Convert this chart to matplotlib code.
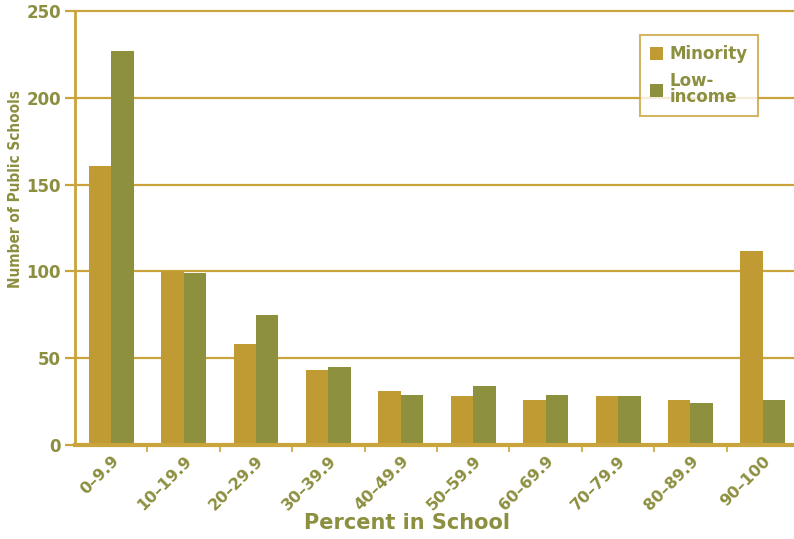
import numpy as np
import matplotlib.pyplot as plt
from matplotlib.patches import Patch

# school counts by percent band
categories = ['0–9.9', '10–19.9', '20–29.9', '30–39.9', '40–49.9',
              '50–59.9', '60–69.9', '70–79.9', '80–89.9', '90–100']
minority = [161, 100, 58, 43, 31, 28, 26, 28, 26, 112]
low_income = [227, 99, 75, 45, 29, 34, 29, 28, 24, 26]

gold = '#C09A33'
olive = '#8D913D'
line_col = '#C9A43C'
text_col = '#8C8F3F'

plt.rcParams['font.family'] = 'DejaVu Sans'
plt.rcParams['font.weight'] = 'bold'

fig = plt.figure(figsize=(7.94, 5.39), dpi=100)
ax = fig.add_axes([0.0945, 0.1744, 0.9055, 0.8052])

x = np.arange(len(categories))
w = 0.31
ax.bar(x - w / 2, minority, w, color=gold, zorder=3)
ax.bar(x + w / 2, low_income, w, color=olive, zorder=3)

ax.set_xlim(-0.5, 9.43)
ax.set_ylim(0, 250)

# horizontal rules
for v in [50, 100, 150, 200, 250]:
    ax.axhline(v, color=line_col, lw=1.6, zorder=1, clip_on=False)

for s in ['top', 'right']:
    ax.spines[s].set_visible(False)
ax.spines['left'].set_color(line_col)
ax.spines['left'].set_linewidth(2)
ax.spines['bottom'].set_color(line_col)
ax.spines['bottom'].set_linewidth(3)
ax.spines['bottom'].set_zorder(4)

ax.set_yticks([0, 50, 100, 150, 200, 250])
ax.tick_params(axis='y', colors=line_col, length=7, width=1.6, labelcolor=text_col,
               labelsize=12, pad=3)

ax.set_xticks(x)
ax.set_xticklabels(categories, rotation=45, ha='right', va='top',
                   rotation_mode='anchor', fontsize=11.5, color=text_col)
ax.tick_params(axis='x', length=0, pad=6)
# separators between bands
ax.set_xticks(np.arange(0.5, 9.5, 1), minor=True)
ax.tick_params(axis='x', which='minor', length=5, width=1.2, color=line_col, direction='out')

for t in ax.get_xticklabels():
    t.set_fontweight('bold')
for t in ax.get_yticklabels():
    t.set_fontweight('bold')

fig.text(0.512, 0.03, 'Percent in School', ha='center', va='center',
         fontsize=15, fontweight='bold', color=text_col)
fig.text(0.02, 0.65, 'Number of Public Schools', ha='center', va='center',
         rotation=90, fontsize=11, fontweight='bold', color=text_col,
         fontstretch='condensed')

handles = [Patch(facecolor=gold, label='Minority'),
           Patch(facecolor=olive, label='Low-\nincome')]
leg = ax.legend(handles=handles, loc='upper right', bbox_to_anchor=(0.9615, 0.9632),
                frameon=True, fancybox=False, fontsize=12, handlelength=0.8,
                handleheight=0.8, handletextpad=0.4, labelspacing=0.5,
                borderpad=0.6, labelcolor=text_col)
leg.get_frame().set_edgecolor(line_col)
leg.get_frame().set_linewidth(1.5)
leg.set_zorder(5)
for t in leg.get_texts():
    t.set_fontweight('bold')
    t.set_linespacing(0.9)

fig.savefig('out.png', dpi=100)
